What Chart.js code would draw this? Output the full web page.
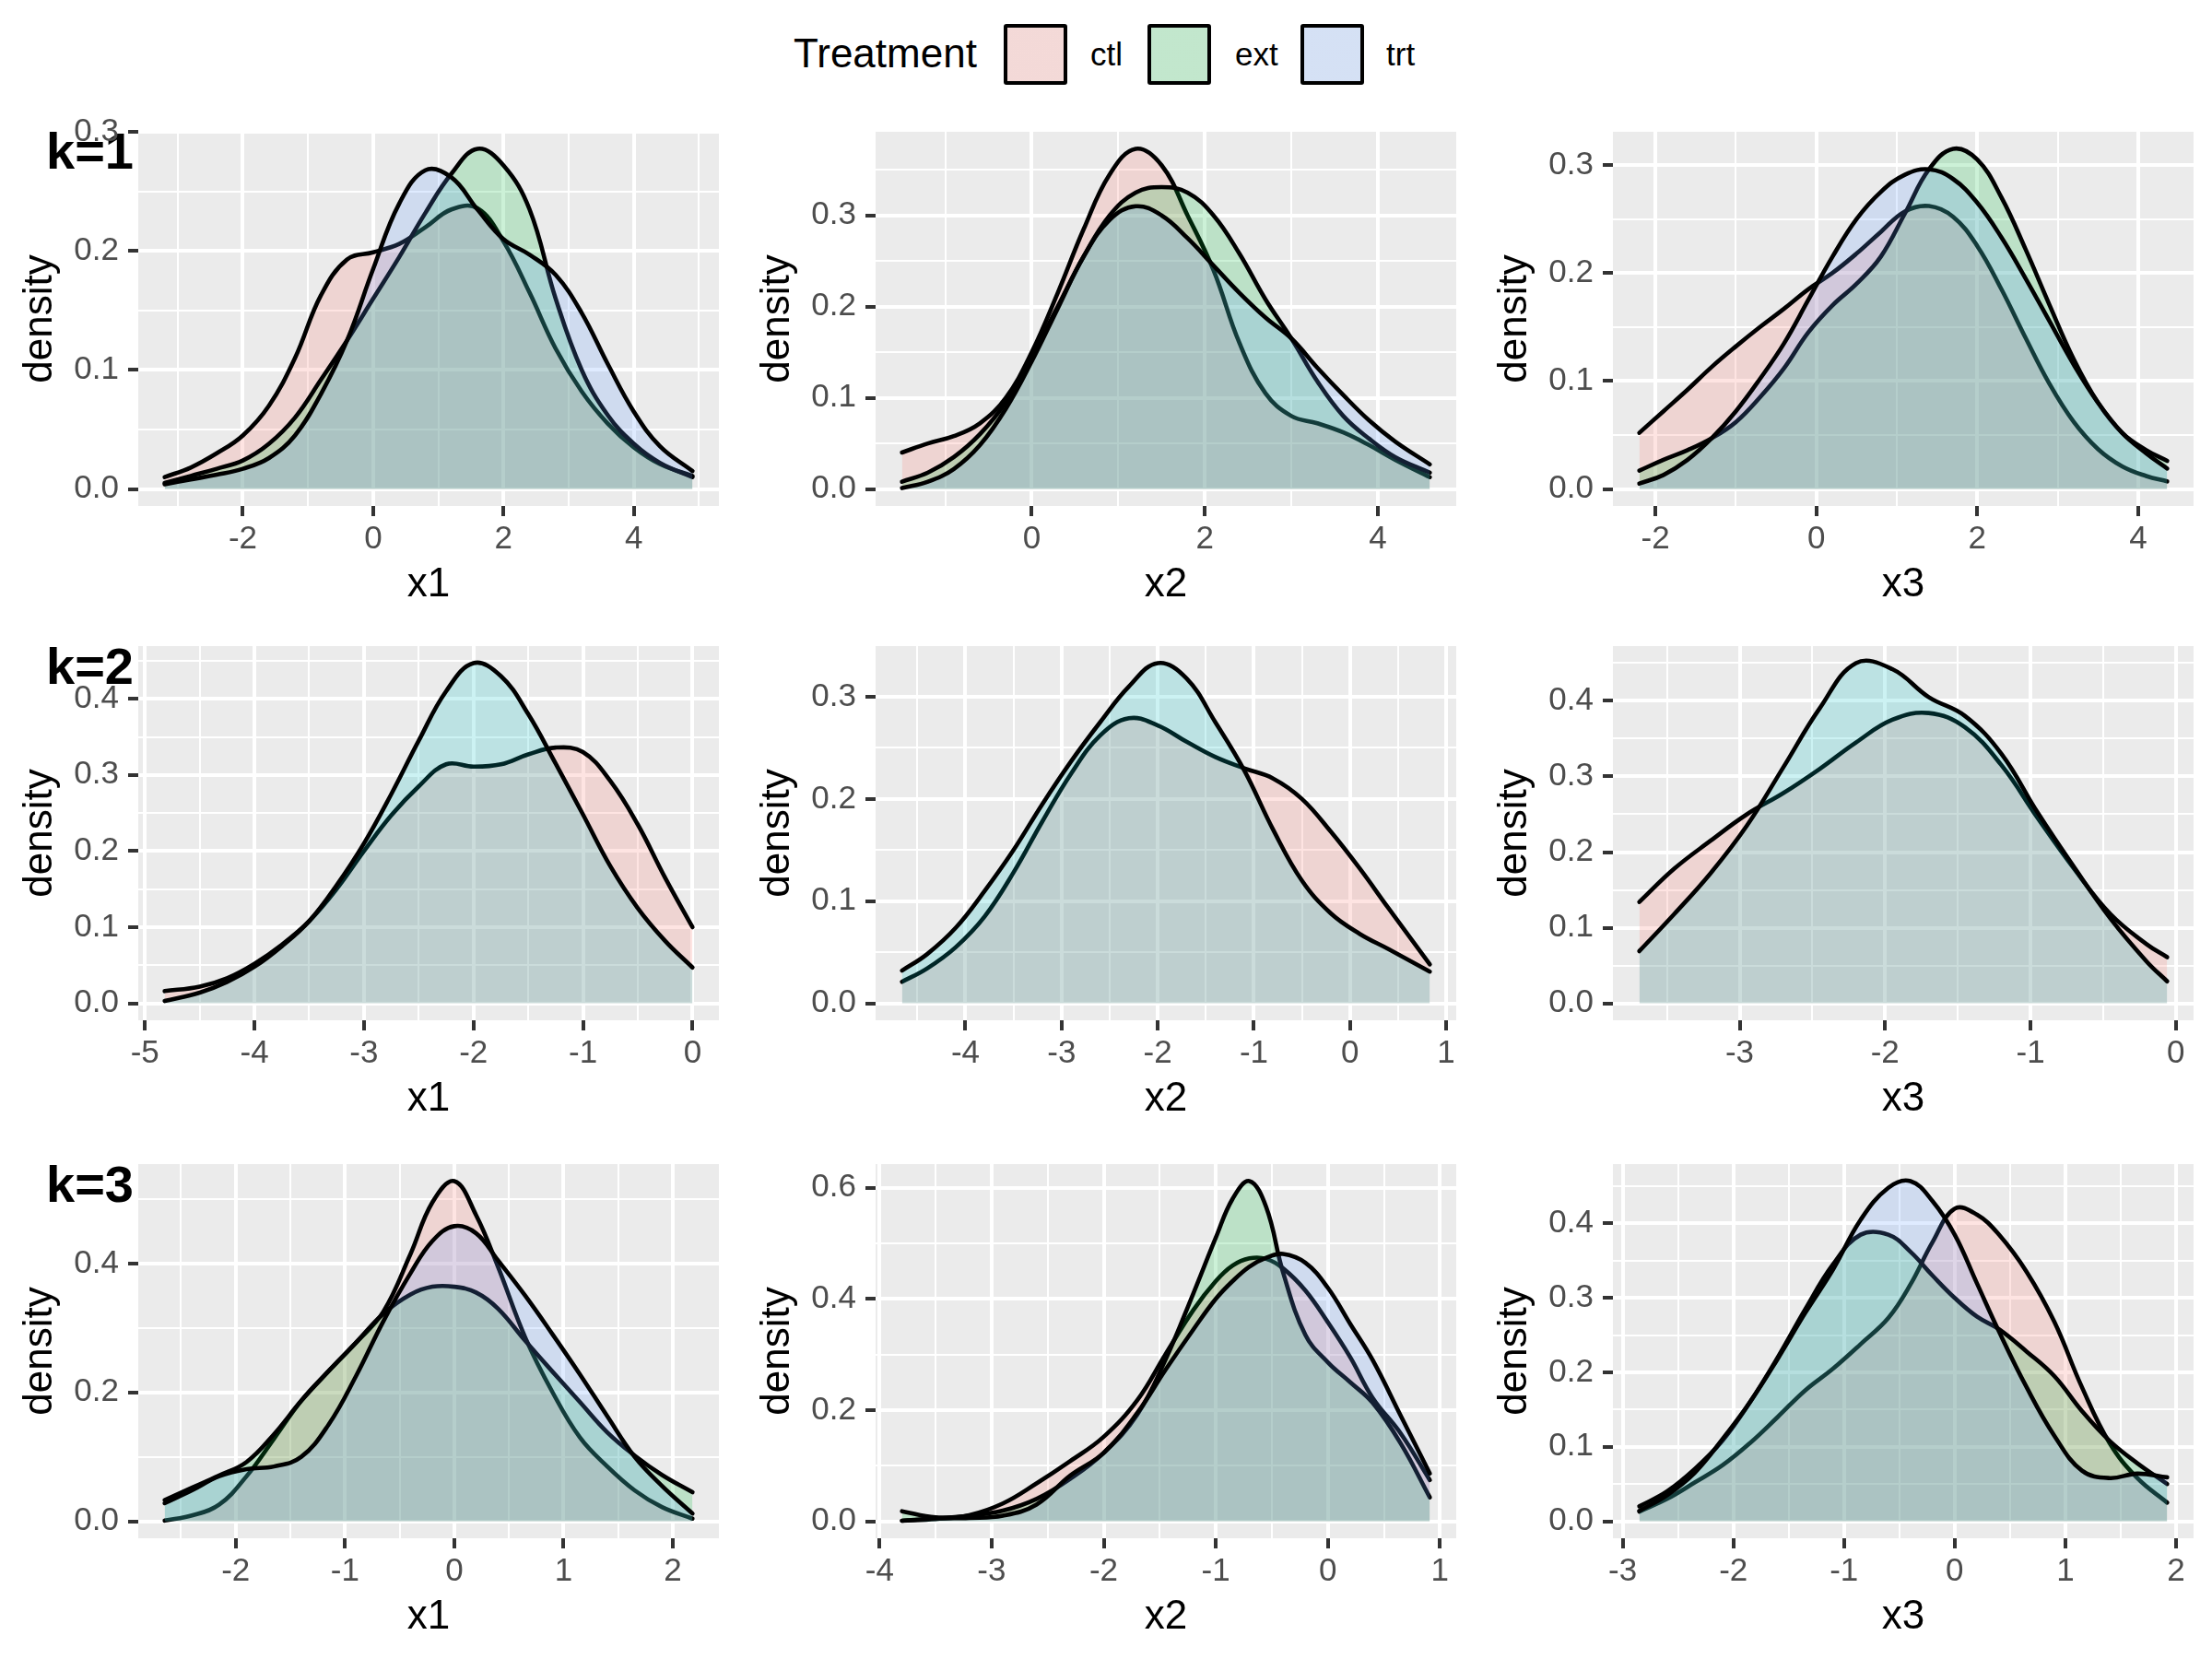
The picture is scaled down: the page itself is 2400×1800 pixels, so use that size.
<!DOCTYPE html>
<html>
<head>
<meta charset="utf-8">
<script src="https://cdn.jsdelivr.net/npm/chart.js@4.4.1/dist/chart.umd.min.js"></script>
<style>
  html, body { margin: 0; padding: 0; background: #fff; }
  #page { position: relative; width: 2400px; height: 1800px; overflow: hidden;
          font-family: 'Liberation Sans', Arial, sans-serif; color: #000; }
  .cell { position: absolute; width: 800px; height: 567px; }
  .rowlab { position: absolute; left: 50px; font-weight: bold; font-size: 56px; line-height: 1; }
  .key { position: absolute; top: 26px; width: 61px; height: 58px; border: 4px solid #000; border-radius: 3px; }
  .ltext { position: absolute; line-height: 1; white-space: nowrap; }
</style>
</head>
<body>
<div id="page">
  <div class="ltext" style="left:861px; top:36px; font-size:44px;">Treatment</div>
  <div class="key" style="left:1089px; background: linear-gradient(rgba(248,118,109,0.2), rgba(248,118,109,0.2)), #F2F2F2;"></div>
  <div class="ltext" style="left:1183px; top:41px; font-size:35px;">ctl</div>
  <div class="key" style="left:1245px; background: linear-gradient(rgba(0,186,56,0.2), rgba(0,186,56,0.2)), #F2F2F2;"></div>
  <div class="ltext" style="left:1340px; top:41px; font-size:35px;">ext</div>
  <div class="key" style="left:1411px; background: linear-gradient(rgba(97,156,255,0.2), rgba(97,156,255,0.2)), #F2F2F2;"></div>
  <div class="ltext" style="left:1504px; top:41px; font-size:35px;">trt</div>

  <div class="rowlab" style="top:136px;">k=1</div>
  <div class="rowlab" style="top:695px;">k=2</div>
  <div class="rowlab" style="top:1257px;">k=3</div>
</div>

<script>
// ---- k = 1 ----
const k1x1X   = [-3.2, -2.8, -2.4, -2.0, -1.6, -1.2, -0.8, -0.4, 0, 0.4, 0.8, 1.2, 1.6, 2.0, 2.4, 2.8, 3.2, 3.6, 4.0, 4.4, 4.9];
const k1x1Ctl = [0.010, 0.018, 0.030, 0.045, 0.070, 0.110, 0.163, 0.193, 0.199, 0.206, 0.220, 0.235, 0.236, 0.208, 0.165, 0.118, 0.082, 0.055, 0.035, 0.021, 0.011];
const k1x1Ext = [0.005, 0.011, 0.017, 0.024, 0.038, 0.060, 0.092, 0.125, 0.160, 0.195, 0.232, 0.265, 0.286, 0.272, 0.235, 0.160, 0.100, 0.062, 0.038, 0.022, 0.010];
const k1x1Trt = [0.004, 0.008, 0.012, 0.017, 0.026, 0.045, 0.080, 0.125, 0.185, 0.240, 0.268, 0.262, 0.235, 0.210, 0.197, 0.180, 0.148, 0.105, 0.065, 0.036, 0.015];

const k1x2X   = [-1.5, -1.2, -0.9, -0.6, -0.3, 0, 0.3, 0.6, 0.9, 1.2, 1.5, 1.8, 2.1, 2.4, 2.7, 3.0, 3.3, 3.6, 3.9, 4.2, 4.6];
const k1x2Ctl = [0.040, 0.050, 0.058, 0.072, 0.100, 0.150, 0.215, 0.285, 0.345, 0.373, 0.355, 0.300, 0.240, 0.160, 0.105, 0.080, 0.072, 0.062, 0.048, 0.032, 0.013];
const k1x2Ext = [0.008, 0.018, 0.035, 0.060, 0.095, 0.145, 0.200, 0.255, 0.300, 0.325, 0.331, 0.325, 0.300, 0.258, 0.208, 0.165, 0.118, 0.080, 0.055, 0.035, 0.018];
const k1x2Trt = [0.001, 0.008, 0.022, 0.048, 0.088, 0.140, 0.198, 0.255, 0.295, 0.310, 0.300, 0.275, 0.245, 0.215, 0.188, 0.165, 0.133, 0.103, 0.075, 0.052, 0.027];

const k1x3X   = [-2.2, -1.9, -1.6, -1.3, -1.0, -0.7, -0.4, -0.1, 0.2, 0.5, 0.8, 1.1, 1.4, 1.7, 2.0, 2.3, 2.6, 2.9, 3.2, 3.5, 3.8, 4.1, 4.36];
const k1x3Ctl = [0.052, 0.072, 0.092, 0.113, 0.132, 0.150, 0.167, 0.185, 0.200, 0.218, 0.238, 0.257, 0.262, 0.252, 0.225, 0.185, 0.140, 0.097, 0.062, 0.037, 0.021, 0.012, 0.007];
const k1x3Ext = [0.017, 0.027, 0.036, 0.047, 0.062, 0.085, 0.112, 0.145, 0.170, 0.190, 0.215, 0.255, 0.296, 0.315, 0.305, 0.270, 0.222, 0.170, 0.120, 0.080, 0.052, 0.036, 0.026];
const k1x3Trt = [0.005, 0.013, 0.027, 0.047, 0.072, 0.102, 0.135, 0.175, 0.215, 0.250, 0.275, 0.291, 0.296, 0.287, 0.265, 0.233, 0.195, 0.155, 0.115, 0.080, 0.052, 0.033, 0.019];

// ---- k = 2 (two groups only) ----
const k2x1X   = [-4.82, -4.5, -4.25, -4.0, -3.75, -3.5, -3.25, -3.0, -2.75, -2.5, -2.25, -2.0, -1.75, -1.5, -1.25, -1.0, -0.75, -0.5, -0.25, 0];
const k2x1Ctl = [0.016, 0.022, 0.033, 0.052, 0.077, 0.108, 0.150, 0.200, 0.247, 0.285, 0.314, 0.311, 0.314, 0.327, 0.336, 0.330, 0.292, 0.235, 0.165, 0.100];
const k2x1Trt = [0.003, 0.014, 0.028, 0.048, 0.075, 0.108, 0.155, 0.210, 0.275, 0.345, 0.410, 0.447, 0.430, 0.380, 0.315, 0.248, 0.180, 0.125, 0.082, 0.047];

const k2x2X   = [-4.66, -4.4, -4.1, -3.8, -3.5, -3.2, -2.9, -2.6, -2.3, -2.0, -1.7, -1.4, -1.1, -0.8, -0.5, -0.2, 0.1, 0.4, 0.83];
const k2x2Ctl = [0.021, 0.034, 0.055, 0.085, 0.128, 0.178, 0.225, 0.262, 0.279, 0.272, 0.256, 0.241, 0.230, 0.220, 0.200, 0.168, 0.132, 0.093, 0.038];
const k2x2Trt = [0.032, 0.048, 0.074, 0.110, 0.150, 0.195, 0.237, 0.275, 0.310, 0.333, 0.318, 0.275, 0.228, 0.170, 0.120, 0.088, 0.068, 0.053, 0.031];

const k2x3X   = [-3.69, -3.45, -3.2, -2.95, -2.7, -2.45, -2.2, -1.95, -1.7, -1.45, -1.2, -0.95, -0.7, -0.45, -0.2, -0.06];
const k2x3Ctl = [0.134, 0.178, 0.215, 0.250, 0.278, 0.310, 0.345, 0.375, 0.384, 0.365, 0.315, 0.245, 0.178, 0.118, 0.078, 0.061];
const k2x3Trt = [0.069, 0.118, 0.172, 0.235, 0.312, 0.390, 0.450, 0.442, 0.405, 0.380, 0.330, 0.252, 0.180, 0.112, 0.055, 0.029];

// ---- k = 3 ----
const k3x1X   = [-2.65, -2.4, -2.15, -1.9, -1.65, -1.4, -1.15, -0.9, -0.65, -0.4, -0.2, 0, 0.2, 0.4, 0.65, 0.9, 1.15, 1.4, 1.65, 1.9, 2.18];
const k3x1Ctl = [0.001, 0.009, 0.026, 0.070, 0.128, 0.187, 0.233, 0.277, 0.325, 0.415, 0.495, 0.528, 0.475, 0.395, 0.285, 0.200, 0.130, 0.085, 0.048, 0.022, 0.004];
const k3x1Ext = [0.033, 0.052, 0.071, 0.092, 0.135, 0.187, 0.233, 0.277, 0.322, 0.352, 0.364, 0.364, 0.355, 0.330, 0.280, 0.232, 0.185, 0.138, 0.102, 0.072, 0.045];
const k3x1Trt = [0.028, 0.048, 0.070, 0.081, 0.085, 0.100, 0.150, 0.225, 0.310, 0.385, 0.435, 0.458, 0.447, 0.405, 0.350, 0.290, 0.228, 0.163, 0.100, 0.055, 0.012];

const k3x2X   = [-3.8, -3.5, -3.2, -2.9, -2.6, -2.3, -2.0, -1.7, -1.45, -1.2, -1.0, -0.85, -0.7, -0.55, -0.4, -0.2, 0, 0.2, 0.4, 0.65, 0.91];
const k3x2Ctl = [0.001, 0.004, 0.011, 0.032, 0.068, 0.108, 0.152, 0.218, 0.300, 0.380, 0.432, 0.460, 0.473, 0.472, 0.455, 0.415, 0.358, 0.295, 0.222, 0.158, 0.074];
const k3x2Ext = [0.018, 0.007, 0.010, 0.019, 0.040, 0.076, 0.123, 0.192, 0.290, 0.410, 0.510, 0.580, 0.612, 0.565, 0.448, 0.335, 0.286, 0.250, 0.213, 0.140, 0.043];
const k3x2Trt = [0.001, 0.005, 0.006, 0.010, 0.030, 0.082, 0.123, 0.195, 0.272, 0.345, 0.400, 0.432, 0.458, 0.474, 0.481, 0.465, 0.420, 0.355, 0.290, 0.190, 0.086];

const k3x3X   = [-2.85, -2.6, -2.35, -2.1, -1.85, -1.6, -1.35, -1.1, -0.85, -0.6, -0.4, -0.2, 0, 0.2, 0.4, 0.65, 0.9, 1.15, 1.4, 1.65, 1.92];
const k3x3Ctl = [0.013, 0.030, 0.052, 0.075, 0.105, 0.140, 0.176, 0.205, 0.238, 0.273, 0.318, 0.375, 0.420, 0.412, 0.385, 0.335, 0.268, 0.180, 0.105, 0.058, 0.025];
const k3x3Ext = [0.020, 0.040, 0.070, 0.108, 0.160, 0.220, 0.285, 0.345, 0.385, 0.385, 0.362, 0.330, 0.300, 0.275, 0.258, 0.228, 0.195, 0.148, 0.108, 0.078, 0.050];
const k3x3Trt = [0.014, 0.035, 0.065, 0.110, 0.160, 0.218, 0.280, 0.338, 0.405, 0.448, 0.457, 0.430, 0.385, 0.320, 0.255, 0.180, 0.115, 0.068, 0.058, 0.064, 0.059];

// ---- tick labels ----
const k1x1XTicks = [-2, 0, 2, 4];
const k1x2XTicks = [0, 2, 4];
const k1x3XTicks = [-2, 0, 2, 4];
const k2x1XTicks = [-5, -4, -3, -2, -1, 0];
const k2x2XTicks = [-4, -3, -2, -1, 0, 1];
const k2x3XTicks = [-3, -2, -1, 0];
const k3x1XTicks = [-2, -1, 0, 1, 2];
const k3x2XTicks = [-4, -3, -2, -1, 0, 1];
const k3x3XTicks = [-3, -2, -1, 0, 1, 2];

const yTicks3 = [0, 0.1, 0.2, 0.3];
const yTicks4 = [0, 0.1, 0.2, 0.3, 0.4];
const k3x1YTicks = [0, 0.2, 0.4];
const k3x2YTicks = [0, 0.2, 0.4, 0.6];

// ggplot hue palettes for 2 and 3 groups
const palettes = {
  2: ['rgba(248,118,109,0.2)', 'rgba(0,191,196,0.2)'],
  3: ['rgba(248,118,109,0.2)', 'rgba(0,186,56,0.2)', 'rgba(97,156,255,0.2)']
};

const colLeft = [150, 950, 1750];
const rowTop = [142, 700, 1262];

const panels = [
  { row: 0, col: 0, title: 'x1', xs: k1x1X, series: [['ctl', k1x1Ctl], ['ext', k1x1Ext], ['trt', k1x1Trt]], xTicks: k1x1XTicks, yTicks: yTicks3 },
  { row: 0, col: 1, title: 'x2', xs: k1x2X, series: [['ctl', k1x2Ctl], ['ext', k1x2Ext], ['trt', k1x2Trt]], xTicks: k1x2XTicks, yTicks: yTicks3 },
  { row: 0, col: 2, title: 'x3', xs: k1x3X, series: [['ctl', k1x3Ctl], ['ext', k1x3Ext], ['trt', k1x3Trt]], xTicks: k1x3XTicks, yTicks: yTicks3 },
  { row: 1, col: 0, title: 'x1', xs: k2x1X, series: [['ctl', k2x1Ctl], ['trt', k2x1Trt]], xTicks: k2x1XTicks, yTicks: yTicks4 },
  { row: 1, col: 1, title: 'x2', xs: k2x2X, series: [['ctl', k2x2Ctl], ['trt', k2x2Trt]], xTicks: k2x2XTicks, yTicks: yTicks3 },
  { row: 1, col: 2, title: 'x3', xs: k2x3X, series: [['ctl', k2x3Ctl], ['trt', k2x3Trt]], xTicks: k2x3XTicks, yTicks: yTicks4 },
  { row: 2, col: 0, title: 'x1', xs: k3x1X, series: [['ctl', k3x1Ctl], ['ext', k3x1Ext], ['trt', k3x1Trt]], xTicks: k3x1XTicks, yTicks: k3x1YTicks },
  { row: 2, col: 1, title: 'x2', xs: k3x2X, series: [['ctl', k3x2Ctl], ['ext', k3x2Ext], ['trt', k3x2Trt]], xTicks: k3x2XTicks, yTicks: k3x2YTicks },
  { row: 2, col: 2, title: 'x3', xs: k3x3X, series: [['ctl', k3x3Ctl], ['ext', k3x3Ext], ['trt', k3x3Trt]], xTicks: k3x3XTicks, yTicks: yTicks4 }
];

Chart.defaults.font.family = "'Liberation Sans', Arial, sans-serif";

const panelBg = {
  id: 'panelBg',
  beforeDraw(chart) {
    const { ctx, chartArea: a } = chart;
    ctx.save();
    ctx.fillStyle = '#EBEBEB';
    ctx.fillRect(a.left, a.top, a.right - a.left, a.bottom - a.top);
    ctx.restore();
  }
};

// major ticks plus ggplot-style minor breaks halfway between them
function tickList(major, min, max) {
  const step = major[1] - major[0];
  const out = [];
  const minors = [major[0] - step / 2];
  for (let i = 0; i < major.length; i++) {
    out.push({ value: major[i] });
    minors.push(major[i] + step / 2);
  }
  minors.forEach(v => out.push({ value: v, minor: true }));
  return out.filter(t => t.value >= min - 1e-9 && t.value <= max + 1e-9)
            .sort((a, b) => a.value - b.value);
}

const isMinor = ctx => ctx.tick && ctx.tick.minor;

function makePanel(p) {
  const page = document.getElementById('page');
  const div = document.createElement('div');
  div.className = 'cell';
  div.style.left = (colLeft[p.col] - 150) + 'px';
  div.style.top = (rowTop[p.row] - 30) + 'px';
  const canvas = document.createElement('canvas');
  div.appendChild(canvas);
  page.appendChild(div);

  const x0 = p.xs[0], x1 = p.xs[p.xs.length - 1];
  const xPad = (x1 - x0) * 0.05;
  let yTop = 0;
  p.series.forEach(s => s[1].forEach(v => { if (v > yTop) yTop = v; }));
  const yMin = -0.05 * yTop, yMax = yTop * 1.05;

  const fills = palettes[p.series.length];
  const datasets = p.series.map((s, i) => ({
    label: s[0],
    data: p.xs.map((x, j) => ({ x: x, y: s[1][j] })),
    borderColor: '#000',
    borderWidth: 4.6,
    backgroundColor: fills[i],
    fill: 'origin',
    pointRadius: 0,
    tension: 0.4,
    borderCapStyle: 'round',
    borderJoinStyle: 'round',
    order: p.series.length - i
  }));

  new Chart(canvas, {
    type: 'line',
    data: { datasets: datasets },
    plugins: [panelBg],
    options: {
      responsive: true,
      maintainAspectRatio: false,
      animation: false,
      events: [],
      layout: { padding: { top: 30, right: 20, left: 0, bottom: 0 } },
      plugins: { legend: { display: false }, tooltip: { enabled: false } },
      scales: {
        x: {
          type: 'linear',
          min: x0 - xPad,
          max: x1 + xPad,
          afterBuildTicks: axis => { axis.ticks = tickList(p.xTicks, x0 - xPad, x1 + xPad); },
          afterFit: axis => { axis.height = 130; },
          border: { display: false },
          grid: {
            color: '#FFFFFF',
            lineWidth: ctx => isMinor(ctx) ? 2 : 4,
            tickLength: 11,
            tickWidth: 4,
            tickColor: ctx => isMinor(ctx) ? 'rgba(0,0,0,0)' : '#333333'
          },
          ticks: {
            autoSkip: false,
            maxRotation: 0,
            padding: 4,
            color: '#4D4D4D',
            font: { size: 35 },
            callback: function (v, i, ticks) { return ticks[i].minor ? '' : String(v); }
          },
          title: { display: true, text: p.title, color: '#000', font: { size: 44 }, padding: { top: 0, bottom: 18 } }
        },
        y: {
          type: 'linear',
          min: yMin,
          max: yMax,
          afterBuildTicks: axis => { axis.ticks = tickList(p.yTicks, yMin, yMax); },
          afterFit: axis => { axis.width = 150; },
          border: { display: false },
          grid: {
            color: '#FFFFFF',
            lineWidth: ctx => isMinor(ctx) ? 2 : 4,
            tickLength: 11,
            tickWidth: 4,
            tickColor: ctx => isMinor(ctx) ? 'rgba(0,0,0,0)' : '#333333'
          },
          ticks: {
            autoSkip: false,
            padding: 10,
            color: '#4D4D4D',
            font: { size: 35 },
            callback: function (v, i, ticks) { return ticks[i].minor ? '' : v.toFixed(1); }
          },
          title: { display: true, text: 'density', color: '#000', font: { size: 44 }, padding: { top: 17, bottom: 0 } }
        }
      }
    }
  });
}

panels.forEach(makePanel);
</script>
</body>
</html>
